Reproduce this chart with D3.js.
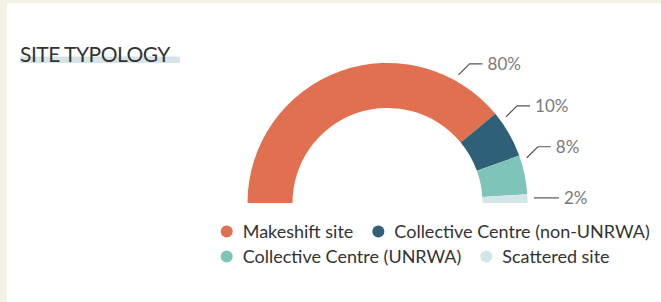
<!DOCTYPE html>
<html>
<head>
<meta charset="utf-8">
<script src="https://cdn.jsdelivr.net/npm/d3@7"></script>
<style>
  body { margin: 0; background: #fff; }
  svg { display: block; font-family: Lato, "Open Sans", sans-serif; }
</style>
</head>
<body>
<div id="chart"></div>
<script>
// Data
var categories = ["Makeshift site", "Collective Centre (non-UNRWA)", "Collective Centre (UNRWA)", "Scattered site"];
var shares = [78, 11, 9, 2];
var shareLabels = ["80%", "10%", "8%", "2%"];
var colors = ["#e0704f", "#2e6177", "#7fc4b8", "#d4e5ea"];

// label anchor angles on the arc (degrees from 12 o'clock)
var labelAngles = [29, 54, 72, 88];

var width = 661, height = 302;
var cx = 387.5, cy = 203, rOuter = 140, rInner = 95;

var svg = d3.select("#chart").append("svg")
    .attr("width", width)
    .attr("height", height);

// cream frame on left / top
svg.append("rect").attr("width", width).attr("height", height).attr("fill", "#f4f1e5");
svg.append("rect").attr("x", 7).attr("y", 3).attr("width", width - 7).attr("height", height - 3).attr("fill", "#fff");

// Title with highlight bar
svg.append("rect")
    .attr("x", 20).attr("y", 56.5)
    .attr("width", 160).attr("height", 6.5)
    .attr("fill", "#d6e4e7");

svg.append("text")
    .attr("x", 20).attr("y", 62)
    .attr("font-size", 21)
    .attr("fill", "#333")
    .attr("letter-spacing", -0.5)
    .text("SITE TYPOLOGY");

// Half donut
var pie = d3.pie()
    .sort(null)
    .startAngle(-Math.PI / 2)
    .endAngle(Math.PI / 2)
    .value(function(d) { return d; });

var arc = d3.arc()
    .innerRadius(rInner)
    .outerRadius(rOuter);

var g = svg.append("g")
    .attr("transform", "translate(" + cx + "," + cy + ")");

g.selectAll("path.slice")
    .data(pie(shares))
    .enter().append("path")
    .attr("class", "slice")
    .attr("d", arc)
    .attr("fill", function(d, i) { return colors[i]; });

// Leader lines + labels
var rad = Math.PI / 180;
var labels = g.selectAll("g.lbl")
    .data(shareLabels)
    .enter().append("g")
    .attr("class", "lbl")
    .each(function(d, i) {
        var a = labelAngles[i] * rad;
        var r = rOuter + 6.5;
        var x0 = r * Math.sin(a), y0 = -r * Math.cos(a);
        var flat = labelAngles[i] > 85;
        var x1 = flat ? x0 : x0 + 11, y1 = flat ? y0 : y0 - 11;
        var x2 = x1 + (flat ? 25 : 13);
        var sel = d3.select(this);
        sel.append("path")
            .attr("d", "M" + x0 + "," + y0 + "L" + x1 + "," + y1 + "L" + x2 + "," + y1)
            .attr("fill", "none")
            .attr("stroke", "#555")
            .attr("stroke-width", 1.2);
        sel.append("text")
            .attr("x", x2 + 5)
            .attr("y", y1)
            .attr("dy", "0.35em")
            .attr("font-size", 17)
            .attr("fill", "#7a7a7a")
            .text(d);
    });

// Legend (two rows, flowing)
var legendRows = [[0, 1], [2, 3]];
var legendX = 226.7, legendY = [231.5, 256.5], gap = 25;

legendRows.forEach(function(row, ri) {
    var x = legendX;
    row.forEach(function(i) {
        svg.append("circle")
            .attr("cx", x).attr("cy", legendY[ri])
            .attr("r", 6)
            .attr("fill", colors[i]);
        var t = svg.append("text")
            .attr("x", x + 16)
            .attr("y", legendY[ri])
            .attr("dy", "0.35em")
            .attr("font-size", 18)
            .attr("fill", "#333")
            .text(categories[i]);
        x = x + 16 + t.node().getComputedTextLength() + gap;
    });
});
</script>
</body>
</html>
